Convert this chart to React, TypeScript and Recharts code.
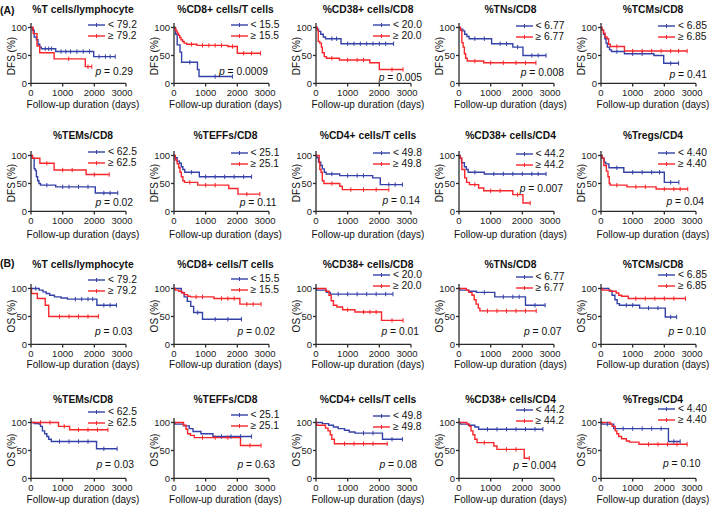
import React from 'react';
import { LineChart, Line, XAxis, YAxis } from 'recharts';

type Pt = number[];

// ---------- labels ----------
const titles = ['%T cells/lymphocyte', '%CD8+ cells/T cells', '%CD38+ cells/CD8', '%TNs/CD8', '%TCMs/CD8',
  '%TEMs/CD8', '%TEFFs/CD8', '%CD4+ cells/T cells', '%CD38+ cells/CD4', '%Tregs/CD4'];
const cutoffs = ['79.2', '15.5', '20.0', '6.77', '6.85', '62.5', '25.1', '49.8', '44.2', '4.40'];
const dfsP = ['0.29', '0.0009', '0.005', '0.008', '0.41', '0.02', '0.11', '0.14', '0.007', '0.04'];
const osP = ['0.03', '0.02', '0.01', '0.07', '0.10', '0.03', '0.63', '0.08', '0.004', '0.10'];
const xTicks = [0, 1000, 2000, 3000];
const yTicks = [0, 50, 100];

// ---------- DFS curves: [days, survival %, censored?] ----------
const dfsTcellsLow: Pt[] = [[0,100],[50,95],[100,83],[170,78],[220,70],[275,65],[325,62],[450,62,1],[560,62,1],[650,62,1],[780,57],[950,57,1],[1100,57,1],[1250,57,1],[1450,57,1],[1650,57,1],[1850,57,1],[1980,48],[2150,48,1],[2350,48,1],[2500,48,1],[2660,48,1]];
const dfsTcellsHigh: Pt[] = [[0,100],[70,89],[190,67],[275,55],[730,44],[1190,44,1],[1715,30],[1800,30,1],[1920,30,1]];
const dfsCd8Low: Pt[] = [[0,100],[50,88],[100,69],[190,56],[240,38],[500,38,1],[740,25],[790,12.5],[1300,12.5,1],[1850,12.5,1]];
const dfsCd8High: Pt[] = [[0,100],[30,97],[60,94],[100,90],[140,86],[180,82],[220,78],[270,75],[320,72],[400,70],[550,70,1],[720,68],[900,68,1],[1100,68,1],[1300,68,1],[1500,68,1],[1700,66],[1850,66,1],[2000,54],[2200,54,1],[2450,54,1],[2730,54,1]];
const dfsCd38Cd8Low: Pt[] = [[0,100],[30,97],[80,93],[150,88],[230,83],[300,80],[500,80,1],[650,80,1],[790,71],[1000,71,1],[1200,71,1],[1400,71,1],[1600,71,1],[1800,71,1],[2000,71,1],[2200,71,1],[2450,71,1]];
const dfsCd38Cd8High: Pt[] = [[0,100],[40,95],[70,75],[120,72],[170,65],[200,55],[260,48],[330,45],[500,45,1],[740,42],[1000,42,1],[1300,42,1],[1500,42,1],[1700,37],[2000,25],[2400,25,1],[2750,25,1]];
const dfsTnLow: Pt[] = [[0,100],[50,97],[120,94],[180,88],[250,84],[320,80],[500,80,1],[800,80,1],[1030,71],[1300,71,1],[1500,71,1],[1700,65],[1850,65,1],[2020,50],[2300,50,1],[2500,50,1],[2750,50,1]];
const dfsTnHigh: Pt[] = [[0,100],[40,95],[90,73],[130,65],[170,53],[210,45],[260,40],[500,40,1],[780,37],[1000,37,1],[1400,37,1],[1800,37,1],[2100,37,1],[2430,37,1]];
const dfsTcmLow: Pt[] = [[0,100],[30,95],[80,88],[120,80],[160,72],[200,65],[270,60],[330,57],[500,57,1],[740,53],[1000,53,1],[1300,53,1],[1670,50],[1980,36],[2200,36,1],[2450,36,1]];
const dfsTcmHigh: Pt[] = [[0,100],[30,95],[80,90],[130,83],[190,80],[240,70],[290,66],[500,66,1],[740,58],[1000,58,1],[1300,58,1],[1600,58,1],[1900,58,1],[2200,58,1],[2450,58,1],[2720,58,1]];
const dfsTemLow: Pt[] = [[0,100],[40,95],[100,76],[140,73],[170,62],[210,55],[250,50],[300,47],[500,47,1],[780,44],[1000,44,1],[1200,44,1],[1500,44,1],[1800,44,1],[2030,33],[2300,33,1],[2500,33,1],[2740,33,1]];
const dfsTemHigh: Pt[] = [[0,100],[50,95],[280,86],[500,86,1],[730,74],[1000,74,1],[1300,74,1],[1740,66],[2000,66,1],[2470,66,1]];
const dfsTeffLow: Pt[] = [[0,100],[30,96],[100,90],[170,86],[230,80],[280,75],[340,70],[550,70,1],[800,62],[1000,62,1],[1300,62,1],[1600,62,1],[1900,62,1],[2200,62,1],[2450,62,1]];
const dfsTeffHigh: Pt[] = [[0,100],[40,92],[100,85],[150,78],[190,70],[230,62],[280,55],[330,52],[500,52,1],[750,47],[1000,47,1],[1300,47,1],[1730,41],[2020,31],[2300,31,1],[2710,31,1]];
const dfsCd4Low: Pt[] = [[0,100],[30,96],[80,88],[150,82],[200,76],[260,70],[320,67],[500,67,1],[750,64],[1000,64,1],[1300,64,1],[1500,64,1],[1790,60],[2030,48],[2300,48,1],[2500,48,1],[2730,48,1]];
const dfsCd4High: Pt[] = [[0,100],[100,88],[120,75],[160,70],[200,55],[250,50],[500,50,1],[750,45],[830,39],[1100,39,1],[1500,39,1],[1900,39,1],[2300,39,1]];
const dfsCd38Cd4Low: Pt[] = [[0,100],[40,95],[80,87],[170,80],[230,75],[290,70],[500,70,1],[800,67],[1100,67,1],[1400,67,1],[1700,67,1],[2000,67,1],[2300,67,1],[2500,67,1],[2750,67,1]];
const dfsCd38Cd4High: Pt[] = [[0,100],[30,95],[90,75],[180,60],[240,52],[330,48],[500,48,1],[620,42],[780,37],[1000,37,1],[1300,37,1],[1700,30],[1850,30,1],[2020,15],[2250,15,1]];
const dfsTregLow: Pt[] = [[0,100],[40,95],[100,88],[150,85],[250,78],[500,78,1],[720,70],[1000,70,1],[1300,70,1],[1600,70,1],[1850,70,1],[2000,52],[2200,52,1],[2460,52,1]];
const dfsTregHigh: Pt[] = [[0,100],[30,95],[90,82],[170,72],[220,62],[260,50],[290,47],[500,47,1],[820,44],[1100,44,1],[1400,44,1],[1740,40],[2000,40,1],[2300,40,1],[2500,40,1],[2740,40,1]];

// ---------- OS curves ----------
const osTcellsLow: Pt[] = [[0,100],[150,100,1],[260,97],[380,94],[480,91],[590,88],[740,85],[950,83],[1150,81],[1400,81,1],[1600,81,1],[1800,81,1],[1950,81,1],[2080,70],[2300,70,1],[2500,70,1],[2700,70,1]];
const osTcellsHigh: Pt[] = [[0,100],[15,91],[200,82],[450,70],[560,50],[900,50,1],[1200,50,1],[1500,50,1],[1800,50,1],[2130,50,1]];
const osCd8Low: Pt[] = [[0,100],[230,93],[320,85],[420,77],[530,68],[620,57],[750,57,1],[900,45],[1300,45,1],[1700,45,1],[2130,45,1]];
const osCd8High: Pt[] = [[0,100],[40,97],[150,95],[250,92],[330,89],[430,86],[520,85],[700,85,1],[900,85,1],[1260,82],[1500,82,1],[1700,82,1],[1900,82,1],[2080,72],[2300,72,1],[2500,72,1],[2750,72,1]];
const osCd38Cd8Low: Pt[] = [[0,100],[20,97],[330,93],[450,90],[700,90,1],[1000,90,1],[1300,90,1],[1600,90,1],[1900,90,1],[2200,90,1],[2430,90,1]];
const osCd38Cd8High: Pt[] = [[0,100],[310,95],[410,88],[480,78],[550,70],[660,67],[840,62],[1000,62,1],[1230,58],[1500,58,1],[1700,58,1],[1900,58,1],[2070,43],[2400,43,1],[2750,43,1]];
const osTnLow: Pt[] = [[0,100],[30,97],[300,95],[550,93],[800,93,1],[1130,85],[1400,85,1],[1700,85,1],[1900,85,1],[2100,70],[2400,70,1],[2720,70,1]];
const osTnHigh: Pt[] = [[0,100],[230,97],[310,93],[410,88],[480,80],[540,72],[610,65],[660,60],[900,60,1],[1200,60,1],[1500,60,1],[1800,60,1],[2100,60,1],[2440,60,1]];
const osTcmLow: Pt[] = [[0,100],[250,96],[350,88],[440,80],[510,73],[580,70],[800,70,1],[1000,70,1],[1220,65],[1500,65,1],[1800,65,1],[2030,49],[2200,49,1],[2390,49,1]];
const osTcmHigh: Pt[] = [[0,100],[40,97],[300,95],[480,92],[560,88],[650,86],[860,82],[1100,82,1],[1400,82,1],[1700,82,1],[2000,82,1],[2300,82,1],[2670,82,1]];
const osTemLow: Pt[] = [[0,100],[100,98],[250,97],[300,93],[360,85],[430,80],[500,75],[560,70],[640,66],[900,66,1],[1200,66,1],[1500,66,1],[1800,66,1],[2070,53],[2300,53,1],[2720,53,1]];
const osTemHigh: Pt[] = [[0,100],[300,100,1],[600,100,1],[870,93],[1050,93,1],[1220,87],[1500,87,1],[1800,87,1],[2100,87,1],[2430,87,1]];
const osTeffLow: Pt[] = [[0,100],[30,97],[300,94],[480,89],[600,84],[850,80],[1230,75],[1500,75,1],[1800,75,1],[2100,75,1],[2450,75,1]];
const osTeffHigh: Pt[] = [[0,100],[300,95],[380,88],[430,80],[520,77],[640,73],[900,73,1],[1300,73,1],[1700,73,1],[2100,59],[2400,59,1],[2750,59,1]];
const osCd4Low: Pt[] = [[0,100],[200,98],[400,95],[550,92],[700,89],[900,86],[1050,83],[1230,81],[1500,81,1],[1800,81,1],[2100,70],[2400,70,1],[2730,70,1]];
const osCd4High: Pt[] = [[0,100],[20,95],[300,90],[380,85],[450,78],[500,70],[580,62],[900,62,1],[1200,62,1],[1500,62,1],[1800,62,1],[2250,62,1]];
const osCd38Cd4Low: Pt[] = [[0,100],[40,97],[300,95],[500,92],[620,88],[900,88,1],[1200,88,1],[1500,88,1],[1800,88,1],[2100,88,1],[2400,88,1],[2650,88,1]];
const osCd38Cd4High: Pt[] = [[0,100],[250,97],[330,93],[380,85],[440,78],[500,70],[570,64],[800,64,1],[1100,58],[1200,52],[1500,52,1],[1800,52,1],[2060,36],[2220,36,1]];
const osTregLow: Pt[] = [[0,100],[30,97],[200,97,1],[400,89],[700,89,1],[1000,89,1],[1300,89,1],[1600,89,1],[1900,89,1],[2130,66],[2300,66,1],[2500,66,1]];
const osTregHigh: Pt[] = [[0,100],[300,97],[350,93],[450,85],[500,80],[560,75],[650,71],[800,67],[900,65],[1200,61],[1500,61,1],[1800,61,1],[2100,61,1],[2400,61,1],[2720,61,1]];

const dfsLow = [dfsTcellsLow, dfsCd8Low, dfsCd38Cd8Low, dfsTnLow, dfsTcmLow, dfsTemLow, dfsTeffLow, dfsCd4Low, dfsCd38Cd4Low, dfsTregLow];
const dfsHigh = [dfsTcellsHigh, dfsCd8High, dfsCd38Cd8High, dfsTnHigh, dfsTcmHigh, dfsTemHigh, dfsTeffHigh, dfsCd4High, dfsCd38Cd4High, dfsTregHigh];
const osLow = [osTcellsLow, osCd8Low, osCd38Cd8Low, osTnLow, osTcmLow, osTemLow, osTeffLow, osCd4Low, osCd38Cd4Low, osTregLow];
const osHigh = [osTcellsHigh, osCd8High, osCd38Cd8High, osTnHigh, osTcmHigh, osTemHigh, osTeffHigh, osCd4High, osCd38Cd4High, osTregHigh];

// ---------- layout (pixels) ----------
const colX0 = [31, 173.5, 316, 458.5, 601];
const rowY100 = [27.5, 155, 288, 422];
const titleY = [10, 135.5, 264.5, 399.5];
const xTitleY = [105, 235, 365, 500];
const legendY = [[25, 25, 25, 25.5, 25.5], [152, 153, 153, 153.5, 153], [280, 279, 275, 277, 275], [412, 415, 415.5, 410, 408.5]];
const pPos = [
  [[133, 72], [268, 72], [422, 77.5], [564, 72.5], [707, 75]],
  [[133, 202.5], [276.5, 202.5], [420, 200.5], [563, 188.5], [704, 201.5]],
  [[132.5, 331.5], [275, 331.5], [419, 331.5], [561.5, 331.5], [706, 331.5]],
  [[134, 465], [275, 464.5], [417, 465], [556.5, 465.5], [700.5, 463.5]],
];

const BLUE = '#3442a8';
const RED = '#f8262a';
const AX = '#2b2b2b';
const FONT = '"Liberation Sans", Arial, Helvetica, sans-serif';

const PLOT_W = 95;
const Y_MAX = 108;
const PX_PER = 0.56;
const PLOT_H = Y_MAX * PX_PER;
const L = 30, R = 16, T = 4, XH = 22;

const toPts = (a: Pt[]) => a.map((p) => ({ t: p[0], s: p[1], c: p[2] ? 1 : 0 }));

const censor = (color: string) => (props: any) => {
  const { cx, cy, payload } = props;
  if (!payload || !payload.c || cx == null || cy == null) return <g />;
  return <line x1={cx} x2={cx} y1={cy - 2.2} y2={cy + 2.2} stroke={color} strokeWidth={1} />;
};

const XTick = (props: any) => {
  const { x, y, payload } = props;
  const shift = payload.value === 3000 ? -4 : 0;
  return (
    <text x={x + shift} y={y + 7.5} textAnchor="middle" fontSize={9.5} fill="#222" fontFamily={FONT}>
      {payload.value}
    </text>
  );
};

const abs = (left: number, top: number, extra: any = {}): React.CSSProperties => ({
  position: 'absolute', left, top, whiteSpace: 'nowrap', fontFamily: FONT, color: '#111', lineHeight: 1, ...extra,
});

function LegendRow({ x, y, color, text }: { x: number; y: number; color: string; text: string }) {
  return (
    <>
      <svg style={{ position: 'absolute', left: x, top: y - 3, overflow: 'visible' }} width={18} height={6}>
        <line x1={0} x2={17} y1={3} y2={3} stroke={color} strokeWidth={1.4} />
        <line x1={8.5} x2={8.5} y1={1} y2={5} stroke={color} strokeWidth={1} />
      </svg>
      <div style={abs(x + 20, y, { fontSize: 10.3, transform: 'translateY(-50%)' })}>{text}</div>
    </>
  );
}

function Panel({ r, c }: { r: number; c: number }) {
  const m = (r % 2) * 5 + c;
  const isDfs = r < 2;
  const low = toPts((isDfs ? dfsLow : osLow)[m]);
  const high = toPts((isDfs ? dfsHigh : osHigh)[m]);
  const x0 = colX0[c];
  const y100 = rowY100[r];
  const chartTop = y100 - T - (Y_MAX - 100) * PX_PER;
  const chartLeft = x0 - L;
  const y50 = y100 + 50 * PX_PER;
  const cx = x0 + 52;
  const ly = legendY[r][c];
  const [px, py] = pPos[r][c];
  const p = (isDfs ? dfsP : osP)[m];
  return (
    <>
      <div style={{ position: 'absolute', left: chartLeft, top: chartTop }}>
        <LineChart width={L + PLOT_W + R} height={T + PLOT_H + XH} margin={{ top: T, right: R, bottom: 0, left: 0 }}>
          <XAxis type="number" dataKey="t" domain={[0, 3000]} ticks={xTicks} interval={0} height={XH}
            tickSize={3} stroke={AX} strokeWidth={1.3} tick={<XTick />} allowDataOverflow />
          <YAxis type="number" domain={[0, Y_MAX]} ticks={yTicks} interval={0} width={L} tickSize={3} tickMargin={1}
            stroke={AX} strokeWidth={1.3} tick={{ fontSize: 9.5, fill: '#222', fontFamily: FONT }} allowDataOverflow />
          <Line data={low} dataKey="s" type="stepAfter" stroke={BLUE} strokeWidth={1.4} dot={censor(BLUE)}
            activeDot={false} isAnimationActive={false} />
          <Line data={high} dataKey="s" type="stepAfter" stroke={RED} strokeWidth={1.4} dot={censor(RED)}
            activeDot={false} isAnimationActive={false} />
        </LineChart>
      </div>
      <div style={abs(cx, titleY[r], { fontSize: 10.3, fontWeight: 'bold', transform: 'translate(-50%, -50%)' })}>
        {titles[m]}
      </div>
      <LegendRow x={x0 + 57} y={ly} color={BLUE} text={`< ${cutoffs[m]}`} />
      <LegendRow x={x0 + 57} y={ly + 11} color={RED} text={`≥ ${cutoffs[m]}`} />
      <div style={abs(px, py, { fontSize: 10.3, transform: 'translate(-100%, -50%)' })}>
        <i>p</i> = {p}
      </div>
      <div style={abs(x0 - 19, y50, { fontSize: 10, transform: 'translate(-50%, -50%) rotate(-90deg)' })}>
        {isDfs ? 'DFS (%)' : 'OS (%)'}
      </div>
      <div style={abs(cx, xTitleY[r], { fontSize: 10, transform: 'translate(-50%, -50%)' })}>
        Follow-up duration (days)
      </div>
    </>
  );
}

export default function App() {
  const rows = [0, 1, 2, 3];
  const cols = [0, 1, 2, 3, 4];
  return (
    <div style={{ position: 'absolute', left: 0, top: 0, width: 709, height: 506, background: '#fff', overflow: 'hidden' }}>
      <div style={abs(0, 10, { fontSize: 10.5, fontWeight: 'bold', transform: 'translateY(-50%)' })}>(A)</div>
      <div style={abs(0, 263, { fontSize: 10.5, fontWeight: 'bold', transform: 'translateY(-50%)' })}>(B)</div>
      {rows.map((r) => cols.map((c) => <Panel key={`${r}-${c}`} r={r} c={c} />))}
    </div>
  );
}
